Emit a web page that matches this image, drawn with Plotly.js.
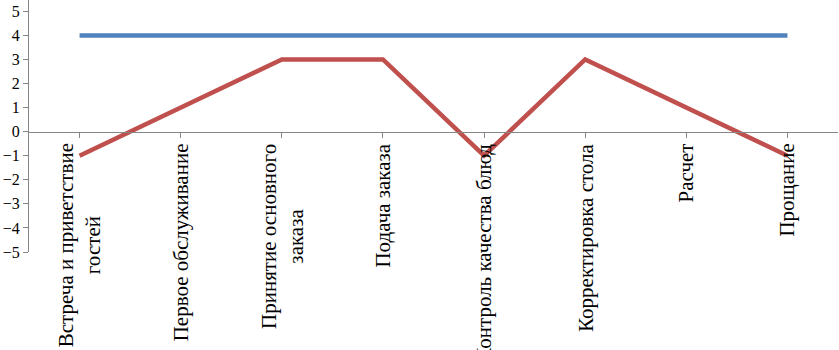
<!DOCTYPE html>
<html>
<head>
<meta charset="utf-8">
<script src="https://cdn.plot.ly/plotly-3.0.1.min.js"></script>
<style>html,body{margin:0;padding:0;background:#fff;}#chart{width:839px;height:350px;}</style>
</head>
<body>
<div id="chart"></div>
<script>
const categories = ["Встреча и приветствие<br>гостей", "Первое обслуживание", "Принятие основного<br>заказа", "Подача заказа", "Контроль качества блюд", "Корректировка стола", "Расчет", "Прощание"];
const blueValues = [4, 4, 4, 4, 4, 4, 4, 4];
const redValues = [-1, 1, 3, 3, -1, 3, 1, -1];
const yTickValues = [-5, -4, -3, -2, -1, 0, 1, 2, 3, 4, 5];

const yMin = -5, yMax = 5.47;
const xIdx = categories.map((c, i) => i);
const serif = 'Liberation Serif';

const traces = [
  {x: xIdx, y: blueValues, type: 'scatter', mode: 'lines', line: {color: '#4F81BD', width: 4.5}, hoverinfo: 'skip'},
  {x: xIdx, y: redValues, type: 'scatter', mode: 'lines', line: {color: '#C0504D', width: 4.5}, hoverinfo: 'skip'}
];

const annotations = categories.map((c, i) => ({
  x: i, y: 0, xref: 'x', yref: 'y', text: c, showarrow: false,
  textangle: -90, xanchor: 'center', yanchor: 'top', yshift: -10, align: 'center',
  font: {family: serif, size: 21, color: '#000'}
}));

const layout = {
  width: 839, height: 350,
  margin: {l: 29, r: 1, t: 0, b: 98},
  paper_bgcolor: '#fff', plot_bgcolor: '#fff',
  showlegend: false,
  xaxis: {
    range: [-0.5, 7.5], anchor: 'free', position: (0 - yMin) / (yMax - yMin),
    tickmode: 'array', tickvals: xIdx, ticktext: categories.map(() => ''), tickson: 'boundaries',
    ticks: 'outside', ticklen: 5, tickcolor: '#868686', tickwidth: 1,
    showline: true, linecolor: '#868686', linewidth: 1,
    showgrid: false, zeroline: false, showticklabels: false, fixedrange: true
  },
  yaxis: {
    range: [yMin, yMax], tickmode: 'array', tickvals: yTickValues,
    ticks: 'outside', ticklen: 5, tickcolor: '#868686', tickwidth: 1,
    showline: true, linecolor: '#868686', linewidth: 1,
    showgrid: false, zeroline: false,
    tickfont: {family: serif, size: 16, color: '#000'},
    fixedrange: true
  },
  annotations: annotations
};

Plotly.newPlot('chart', traces, layout, {displayModeBar: false, staticPlot: true});
</script>
</body>
</html>
